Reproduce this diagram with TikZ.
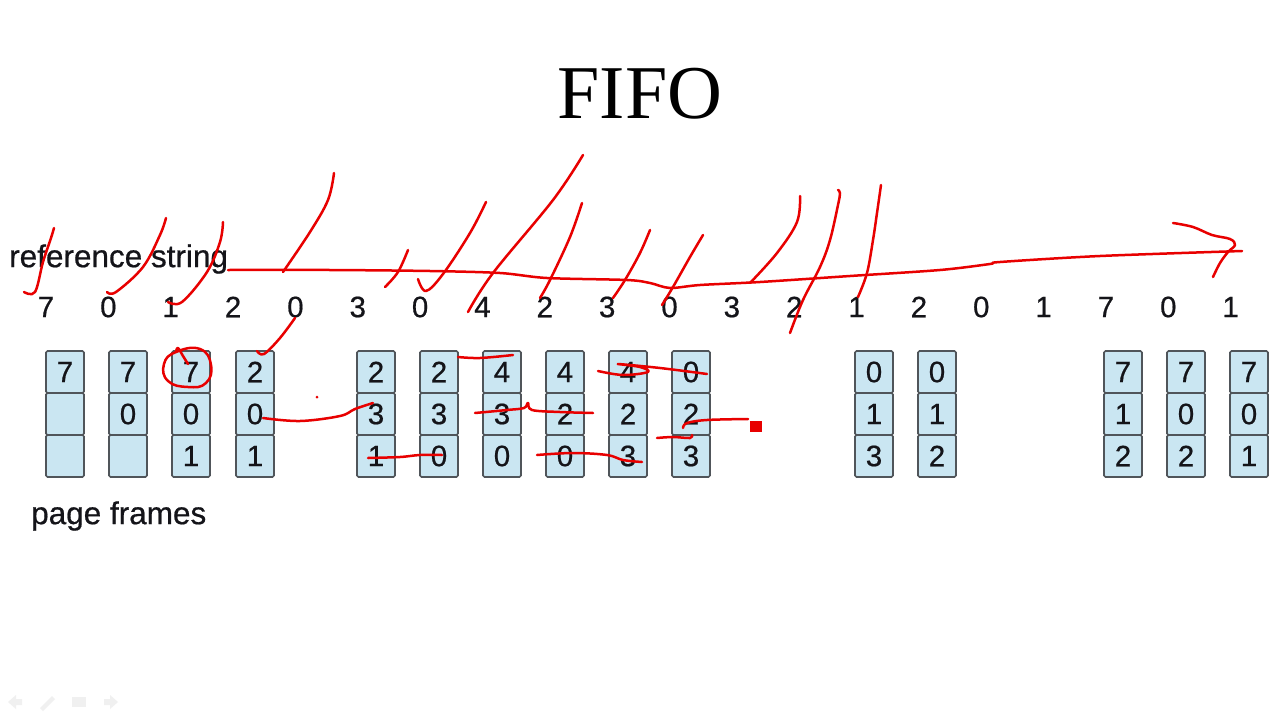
\documentclass[tikz,border=0pt]{standalone}
\usepackage{fontspec}
\setmainfont{Liberation Serif}
\newfontfamily\arialf[FakeBold=0.6]{Liberation Sans}
\definecolor{cellblue}{RGB}{202,230,242}
\definecolor{cellline}{RGB}{80,85,90}
\definecolor{inkred}{RGB}{232,0,0}
\definecolor{txt}{RGB}{20,20,25}
\begin{document}
\begin{tikzpicture}[x=1pt,y=-1pt,
  cell/.style={draw=cellline,line width=1.6pt,fill=cellblue,rounded corners=1.5pt,
    minimum width=38pt,minimum height=42pt,inner sep=0pt,text=txt,
    font=\arialf\fontsize{29.5}{34}\selectfont},
  refdigit/.style={inner sep=0pt,text=txt,font=\arialf\fontsize{29.5}{34}\selectfont},
  lbl/.style={inner sep=0pt,anchor=west,text=txt,font=\arialf\fontsize{31.5}{36}\selectfont},
  ink/.style={draw=inkred,line width=2.5pt,line cap=round,line join=round},
  navicon/.style={fill=black!6,draw=none}]
\useasboundingbox (0,0) rectangle (1280,720);
\fill[white] (0,0) rectangle (1280,720);
% title
\node[inner sep=0pt,font=\fontsize{76}{90}\selectfont] (title) at (640,94) {FIFO};
% labels
\node[lbl] (refstr) at (9,259) {reference string};
\node[lbl] (pf) at (31,516) {page frames};
% reference string digits
\foreach \d [count=\i from 0] in {7,0,1,2,0,3,0,4,2,3,0,3,2,1,2,0,1,7,0,1}
  \node[refdigit] (r\i) at ({46+62.35*\i},307) {\d};
% page frames
\foreach \n/\x/\a/\b/\c in {0/46/7/{}/{},1/109/7/0/{},2/172/7/0/1,3/236/2/0/1,
  5/357/2/3/1,6/420/2/3/0,7/483/4/3/0,8/546/4/2/0,9/609/4/2/3,10/672/0/2/3,
  13/855/0/1/3,14/918/0/1/2,17/1104/7/1/2,18/1167/7/0/2,19/1230/7/0/1}{
  \node[cell] (f\n a) at ({\x+19},372) {\a};
  \node[cell] (f\n b) at ({\x+19},414) {\b};
  \node[cell] (f\n c) at ({\x+19},456) {\c};
}
% red ink annotations
\draw[ink] plot[smooth,tension=0.6] coordinates {(24,292) (35,292) (43,262) (51,238) (54,228)};
\draw[ink] plot[smooth,tension=0.6] coordinates {(107,292) (116,292) (143,267) (160,235) (166,218)};
\draw[ink] plot[smooth,tension=0.6] coordinates {(168,302) (182,302) (207,272) (220,242) (223,222)};
% long horizontal stroke with arrow
\draw[ink] plot[smooth,tension=0.5] coordinates {(228,270) (330,270) (430,271) (500,273) (547,278) (627,280) (650,283) (670,288) (700,285) (760,282) (850,276) (940,270) (990,264) (1000,262) (1100,256) (1242,251)};
\draw[ink] plot[smooth,tension=0.6] coordinates {(1173,223) (1193,227) (1212,235) (1230,239) (1235,245) (1228,252) (1220,263) (1213,277)};
% slashes
\draw[ink] plot[smooth,tension=0.6] coordinates {(283,272) (310,232) (328,200) (334,173)};
\draw[ink] plot[smooth,tension=0.6] coordinates {(295,318) (280,338) (264,354) (257,351)};
\draw[ink] plot[smooth,tension=0.6] coordinates {(385,287) (398,272) (408,250)};
\draw[ink] plot[smooth,tension=0.6] coordinates {(418,279) (426,291) (443,274) (470,233) (486,202)};
\draw[ink] plot[smooth,tension=0.6] coordinates {(468,312) (493,273) (553,200) (583,155)};
\draw[ink] plot[smooth,tension=0.6] coordinates {(540,298) (550,280) (570,237) (582,203)};
\draw[ink] plot[smooth,tension=0.6] coordinates {(613,298) (625,280) (640,253) (650,230)};
\draw[ink] plot[smooth,tension=0.6] coordinates {(662,305) (673,287) (690,257) (703,235)};
\draw[ink] plot[smooth,tension=0.6] coordinates {(750,283) (777,253) (797,222) (800,196)};
\draw[ink] plot[smooth,tension=0.6] coordinates {(790,333) (803,300) (820,267) (830,240) (838,205) (840,193) (838,190)};
\draw[ink] plot[smooth,tension=0.6] coordinates {(858,297) (867,273) (873,240) (877,213) (881,185)};
% circle around 7
\draw[ink] plot[smooth cycle,tension=0.8] coordinates {(176,352) (200,349) (211,365) (206,383) (188,387) (168,381) (164,364)};
\draw[ink] plot[smooth,tension=0.7] coordinates {(176,352) (178,348) (183,356) (188,364)};
% strokes across the frames
\fill[inkred] (317,397) circle (1.5);
\draw[ink] plot[smooth,tension=0.6] coordinates {(263,418) (300,421) (340,416) (355,409) (373,403)};
\draw[ink] plot[smooth,tension=0.6] coordinates {(458,357) (480,358) (513,355)};
\draw[ink] plot[smooth,tension=0.6] coordinates {(475,413) (507,410) (524,408) (528,403) (532,410) (560,412) (593,413)};
\draw[ink] plot[smooth,tension=0.6] coordinates {(368,458) (400,457) (420,455) (442,455)};
\draw[ink] plot[smooth,tension=0.6] coordinates {(537,455) (573,453) (607,455) (623,460) (642,462)};
\draw[ink] plot[smooth,tension=0.6] coordinates {(598,371) (623,375) (648,372) (640,367) (618,364) (660,368) (707,374)};
\draw[ink] plot[smooth,tension=0.6] coordinates {(683,428) (687,423) (707,420) (748,419)};
\draw[ink] plot[smooth,tension=0.6] coordinates {(657,438) (673,437) (690,438) (692,435)};
\fill[inkred] (750,421) rectangle (762,432);
% faint navigation icons
\fill[navicon] (8,702) -- (16,695) -- (16,699) -- (22,699) -- (22,705) -- (16,705) -- (16,709) -- cycle;
\fill[navicon] (40,708) -- (52,696) -- (55,699) -- (43,711) -- cycle;
\fill[navicon] (72,697) rectangle (86,707);
\fill[navicon] (118,702) -- (110,695) -- (110,699) -- (104,699) -- (104,705) -- (110,705) -- (110,709) -- cycle;
\end{tikzpicture}
\end{document}
